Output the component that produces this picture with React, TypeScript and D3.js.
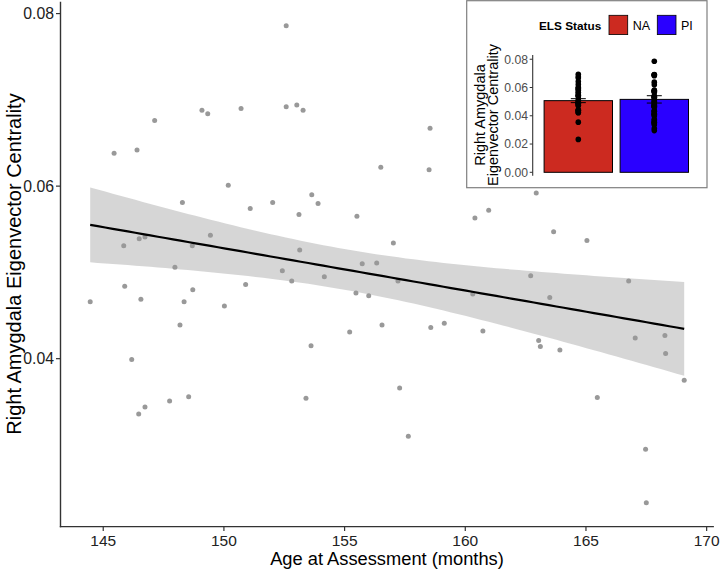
import * as d3 from 'd3';

// age at assessment (months), one entry per participant
const ages = [
  152.58, 145.45, 146.40, 147.13, 149.09, 149.33, 150.71, 152.58, 153.02, 153.28,
  158.54, 156.50, 158.50, 150.18, 148.28, 151.09, 152.02, 153.64, 153.90, 153.11,
  155.51, 160.40, 157.02, 149.44, 145.85, 146.49, 146.73, 148.69, 153.14, 147.97,
  152.42, 152.81, 154.16, 155.73, 156.33, 157.21, 155.47, 156.00, 160.31, 144.46,
  145.89, 146.56, 148.35, 148.71, 150.90, 150.02, 148.18, 155.21, 156.55, 158.57,
  159.13, 153.61, 146.18, 157.28, 153.40, 147.75, 148.54, 146.73, 146.47, 157.64,
  162.94, 160.97, 163.66, 165.04, 162.71, 166.77, 163.50, 160.73, 163.04, 163.11,
  163.92, 167.04, 168.27, 168.30, 169.07, 165.47, 167.47, 167.50,
];

// right amygdala eigenvector centrality
const centrality = [
  0.0786, 0.0638, 0.0642, 0.0676, 0.0688, 0.0684, 0.0690, 0.0692, 0.0694, 0.0688,
  0.0667, 0.0622, 0.0619, 0.0601, 0.0581, 0.0574, 0.0581, 0.0590, 0.0580, 0.0567,
  0.0565, 0.0563, 0.0534, 0.0543, 0.0531, 0.0539, 0.0541, 0.0531, 0.0526, 0.0506,
  0.0502, 0.0490, 0.0495, 0.0510, 0.0511, 0.0490, 0.0476, 0.0473, 0.0475, 0.0466,
  0.0484, 0.0469, 0.0466, 0.0480, 0.0486, 0.0461, 0.0439, 0.0431, 0.0439, 0.0436,
  0.0441, 0.0415, 0.0399, 0.0366, 0.0354, 0.0351, 0.0356, 0.0344, 0.0336, 0.0310,
  0.0592, 0.0572, 0.0547, 0.0537, 0.0496, 0.0490, 0.0471, 0.0432, 0.0421, 0.0414,
  0.0410, 0.0424, 0.0427, 0.0406, 0.0375, 0.0355, 0.0295, 0.0233,
];

// ELS status of each participant
const elsGroup = [
  'PI', 'PI', 'NA', 'NA', 'PI', 'PI', 'PI', 'PI', 'NA', 'PI',
  'NA', 'NA', 'PI', 'NA', 'NA', 'PI', 'PI', 'NA', 'PI', 'PI',
  'NA', 'NA', 'NA', 'NA', 'PI', 'PI', 'NA', 'PI', 'PI', 'NA',
  'PI', 'NA', 'PI', 'NA', 'PI', 'NA', 'PI', 'PI', 'NA', 'PI',
  'NA', 'PI', 'PI', 'PI', 'NA', 'PI', 'NA', 'PI', 'NA', 'PI',
  'NA', 'PI', 'PI', 'PI', 'PI', 'PI', 'PI', 'PI', 'PI', 'PI',
  'NA', 'PI', 'NA', 'PI', 'NA', 'PI', 'NA', 'PI', 'NA', 'PI',
  'PI', 'NA', 'NA', 'PI', 'PI', 'NA', 'PI', 'NA',
];

const groups = ['NA', 'PI'];
const groupMeans = [0.0507, 0.0516];
const groupSE = [0.0014, 0.0026];
const groupColors = ['#cc2a20', '#2a00ff'];

const xTicks = [145, 150, 155, 160, 165, 170];
const yTicks = [0.04, 0.06, 0.08];
const insetTicks = [0, 0.02, 0.04, 0.06, 0.08];

const font = '"Liberation Sans", Arial, Helvetica, sans-serif';

function expand(ext: [number, number]) {
  const pad = (ext[1] - ext[0]) * 0.05;
  return [ext[0] - pad, ext[1] + pad];
}

export default function App() {
  const x = d3.scaleLinear()
    .domain(expand(d3.extent(ages) as [number, number]))
    .range([60.5, 713.9]);
  const y = d3.scaleLinear()
    .domain(expand(d3.extent(centrality) as [number, number]))
    .range([526.6, 1.8]);

  // lm fit with 95% confidence band, like geom_smooth(method = "lm")
  const n = ages.length;
  const mx = d3.mean(ages)!;
  const my = d3.mean(centrality)!;
  const sxx = d3.sum(ages, a => (a - mx) ** 2);
  const sxy = d3.sum(ages, (a, i) => (a - mx) * (centrality[i] - my));
  const slope = sxy / sxx;
  const icpt = my - slope * mx;
  const rss = d3.sum(ages, (a, i) => (centrality[i] - icpt - slope * a) ** 2);
  const s = Math.sqrt(rss / (n - 2));
  const tCrit = 1.992;
  const [x0, x1] = d3.extent(ages) as [number, number];
  const grid = d3.range(80).map(i => x0 + (x1 - x0) * i / 79);
  const band = grid.map(g => {
    const fit = icpt + slope * g;
    const se = s * Math.sqrt(1 / n + (g - mx) ** 2 / sxx);
    return { g, fit, lo: fit - tCrit * se, hi: fit + tCrit * se };
  });
  const area = d3.area<any>().x(d => x(d.g)).y0(d => y(d.lo)).y1(d => y(d.hi));
  const line = d3.line<any>().x(d => x(d.g)).y(d => y(d.fit));

  // inset bar chart
  const bx = d3.scaleBand().domain(groups).range([532.7, 699.9])
    .paddingInner(0.1).paddingOuter(0.15);
  const by = d3.scaleLinear().domain([-0.0024, 0.083]).range([175.7, 55]);

  return (
    <svg width={722} height={572} style={{ position: 'absolute', left: 0, top: 0, background: '#fff' }}
      fontFamily={font}>
      <g>
        {ages.map((a, i) => (
          <circle key={i} cx={x(a)} cy={y(centrality[i])} r={2.5} fill="#999" />
        ))}
        <path d={area(band)!} fill="#999" fillOpacity={0.4} />
        <path d={line(band)!} fill="none" stroke="#000" strokeWidth={2.2} />
      </g>

      {/* axes */}
      <line x1={60.5} x2={60.5} y1={y.range()[1]} y2={527.3} stroke="#333" strokeWidth={1.4} />
      <line x1={59.8} x2={713.9} y1={526.6} y2={526.6} stroke="#333" strokeWidth={1.4} />
      {yTicks.map(t => (
        <g key={t}>
          <line x1={56} x2={60.5} y1={y(t)} y2={y(t)} stroke="#333" strokeWidth={1.2} />
          <text x={54} y={y(t)} dy="0.36em" textAnchor="end" fontSize={15.8} fill="#222">{t.toFixed(2)}</text>
        </g>
      ))}
      {xTicks.map(t => (
        <g key={t}>
          <line x1={x(t)} x2={x(t)} y1={526.6} y2={531} stroke="#333" strokeWidth={1.2} />
          <text x={x(t)} y={545.5} textAnchor="middle" fontSize={15.5} fill="#222">{t}</text>
        </g>
      ))}
      <text x={387} y={565} textAnchor="middle" fontSize={18.3} fill="#000">Age at Assessment (months)</text>
      <text transform="translate(21,264) rotate(-90)" textAnchor="middle" fontSize={20} fill="#000">
        Right Amygdala Eigenvector Centrality
      </text>

      {/* inset */}
      <rect x={466.7} y={0.7} width={240.3} height={187} fill="#fff" stroke="#7f7f7f" strokeWidth={1.2} />
      <text x={539} y={30} fontSize={11.8} fontWeight="bold" fill="#000">ELS Status</text>
      {groups.map((g, i) => (
        <g key={g}>
          <rect x={609 + i * 48.3} y={15.3} width={18.7} height={19.3} fill={groupColors[i]} stroke="#000" strokeWidth={0.8} />
          <text x={632.7 + i * 48.3} y={29.8} fontSize={12.5} fill="#000">{g}</text>
        </g>
      ))}
      {groups.map((g, i) => (
        <rect key={g} x={bx(g)} y={by(groupMeans[i])} width={bx.bandwidth()}
          height={by(0) - by(groupMeans[i])} fill={groupColors[i]} stroke="#000" strokeWidth={1} />
      ))}
      {centrality.map((c, i) => (
        <circle key={i} cx={bx(elsGroup[i])! + bx.bandwidth() / 2} cy={by(c)} r={2.8} fill="#000" />
      ))}
      {groups.map((g, i) => {
        const cx = bx(g)! + bx.bandwidth() / 2;
        const top = by(groupMeans[i] + groupSE[i]);
        const bot = by(groupMeans[i] - groupSE[i]);
        return (
          <g key={g} stroke="#000" strokeWidth={1}>
            <line x1={cx - 7.5} x2={cx + 7.5} y1={top} y2={top} />
            <line x1={cx - 7.5} x2={cx + 7.5} y1={bot} y2={bot} />
            <line x1={cx} x2={cx} y1={top} y2={bot} />
          </g>
        );
      })}
      <line x1={532.7} x2={532.7} y1={55} y2={175.7} stroke="#333" strokeWidth={1.1} />
      {insetTicks.map(t => (
        <g key={t}>
          <line x1={529.7} x2={532.7} y1={by(t)} y2={by(t)} stroke="#333" strokeWidth={1} />
          <text x={528} y={by(t)} dy="0.36em" textAnchor="end" fontSize={12.2} fill="#4d4d4d">{t.toFixed(2)}</text>
        </g>
      ))}
      <text transform="translate(484.5,115) rotate(-90)" textAnchor="middle" fontSize={14.5} fill="#000">
        <tspan x={0} y={0}>Right Amygdala</tspan>
        <tspan x={0} y={13.5}>Eigenvector Centrality</tspan>
      </text>
    </svg>
  );
}
